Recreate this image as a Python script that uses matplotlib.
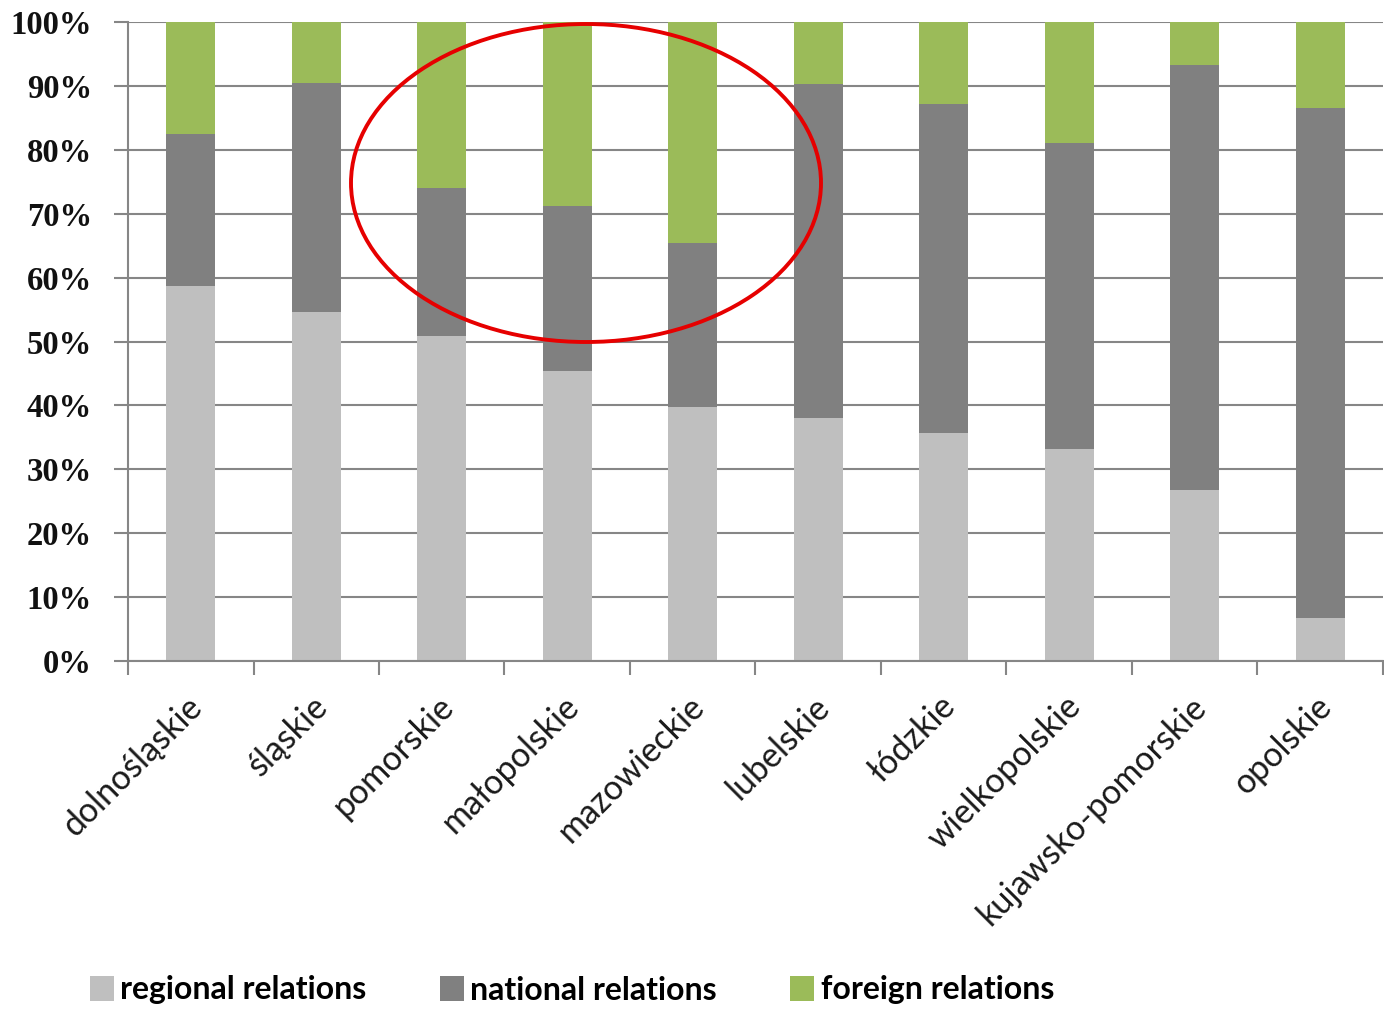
import matplotlib
matplotlib.use("Agg")
import matplotlib.pyplot as plt
from matplotlib.patches import Ellipse, Patch
import numpy as np

categories = ["dolnośląskie", "śląskie", "pomorskie", "małopolskie", "mazowieckie",
              "lubelskie", "łódzkie", "wielkopolskie", "kujawsko-pomorskie", "opolskie"]
regional = [58.7, 54.6, 50.9, 45.4, 39.7, 38.0, 35.7, 33.2, 26.8, 6.7]
national = [23.8, 35.9, 23.1, 25.8, 25.7, 52.3, 51.5, 47.9, 66.5, 79.8]
foreign = [100 - r - n for r, n in zip(regional, national)]
yticks = [0, 10, 20, 30, 40, 50, 60, 70, 80, 90, 100]
series_names = ["regional relations", "national relations", "foreign relations"]
colors = ["#BFBFBF", "#808080", "#9BBB59"]

fig = plt.figure(figsize=(13.84, 10.09), dpi=100)
W, H = 1384, 1009
ax = fig.add_axes([128 / W, 1 - 661 / H, (1383 - 128) / W, (661 - 22) / H])

x = np.arange(len(categories))
bw = 0.39
ax.bar(x, regional, bw, color=colors[0], zorder=2)
ax.bar(x, national, bw, bottom=regional, color=colors[1], zorder=2)
bottom2 = [r + n for r, n in zip(regional, national)]
ax.bar(x, foreign, bw, bottom=bottom2, color=colors[2], zorder=2)

ax.set_xlim(-0.5, len(categories) - 0.5)
ax.set_ylim(0, 100)
ax.set_yticks(yticks)
ax.set_yticklabels([f"{v}%" for v in yticks], fontfamily="Liberation Serif",
                   fontweight="bold", fontsize=23.5, color="#111111")
ax.yaxis.grid(True, color="#868686", linewidth=1.5, zorder=0)
ax.set_axisbelow(True)

ax.set_xticks(np.arange(len(categories) + 1) - 0.5)
ax.set_xticklabels([])
ax.tick_params(axis="both", direction="out", length=10, width=1.5, color="#868686")
ax.tick_params(axis="y", pad=16)
for i, c in enumerate(categories):
    ax.annotate(c, xy=(i, 0), xycoords=("data", "axes fraction"),
                xytext=(-3.5, -21), textcoords="offset points",
                rotation=45, rotation_mode="anchor", ha="right", va="top",
                fontsize=24.5, fontfamily="Lato", color="#1a1a1a")

for s in ["top", "right"]:
    ax.spines[s].set_visible(False)
for s in ["left", "bottom"]:
    ax.spines[s].set_color("#868686")
    ax.spines[s].set_linewidth(1.5)

# red ellipse annotation
ell = Ellipse(((586 - 128) / (1383 - 128), 1 - (183 - 22) / (661 - 22)),
              width=470 / (1383 - 128), height=318 / (661 - 22),
              transform=ax.transAxes, fill=False, edgecolor="#E60000",
              linewidth=2.8, zorder=5, clip_on=False)
ax.add_patch(ell)

handles = [Patch(facecolor=c, edgecolor="none") for c in colors]
fig.legend(handles, series_names, loc="center", bbox_to_anchor=(572 / W, 1 - 990 / H),
           ncol=3, frameon=False, handlelength=0.75, handleheight=0.85,
           handletextpad=0.2, columnspacing=2.3,
           prop={"family": "Lato", "size": 23, "weight": "bold"})

fig.savefig("out.png", dpi=100)
